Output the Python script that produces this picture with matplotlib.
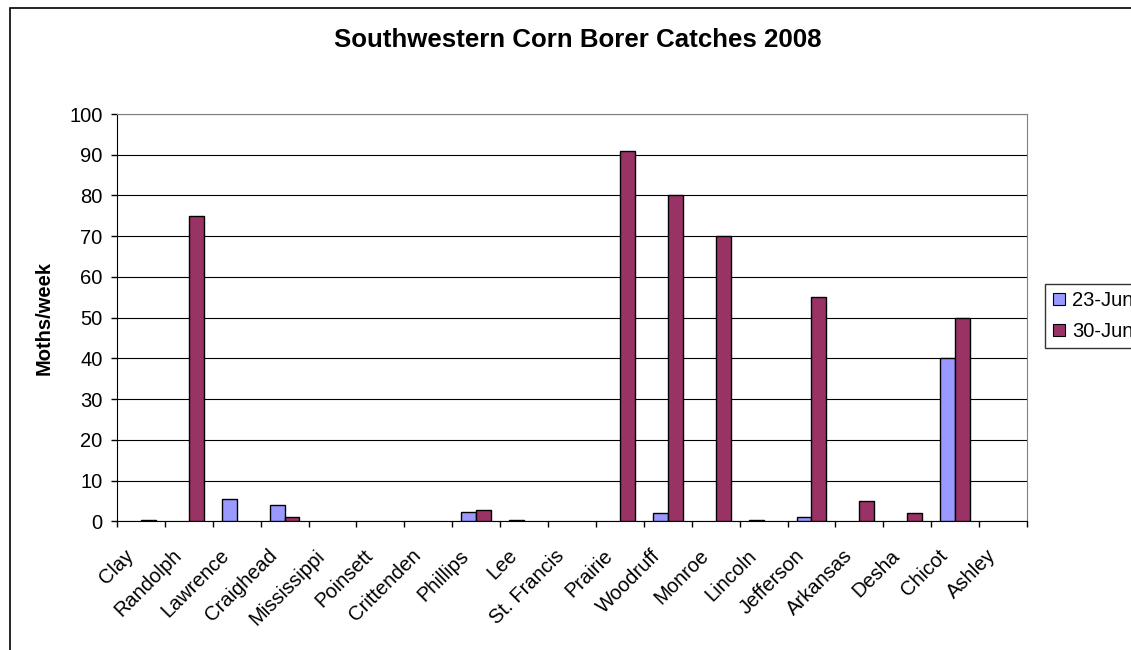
import matplotlib
matplotlib.use('Agg')
import matplotlib.pyplot as plt
import matplotlib.transforms as mtransforms
import numpy as np
from matplotlib.patches import Rectangle
from matplotlib.lines import Line2D

plt.rcParams['font.family'] = ['Liberation Sans', 'DejaVu Sans']

counties = ['Clay', 'Randolph', 'Lawrence', 'Craighead', 'Mississippi', 'Poinsett',
            'Crittenden', 'Phillips', 'Lee', 'St. Francis', 'Prairie', 'Woodruff',
            'Monroe', 'Lincoln', 'Jefferson', 'Arkansas', 'Desha', 'Chicot', 'Ashley']
jun23 = [0, 0, 5.5, 4, 0, 0, 0, 2.4, 0.3, 0, 0, 2, 0, 0.3, 1, 0, 0, 40, 0]
jun30 = [0.3, 75, 0, 1, 0, 0, 0, 2.7, 0, 0, 91, 80, 70, 0, 55, 5, 2, 50, 0]
series_names = ['23-Jun', '30-Jun']
colors = ['#9999FF', '#993366']

fig = plt.figure(figsize=(11.31, 6.5), dpi=100)
ax = fig.add_axes([117 / 1131, 1 - 521.3 / 650, 910 / 1131, (521.3 - 114) / 650])

# outer chart frame
fig.add_artist(Rectangle((10 / 1131, -0.1), 1.2, 1 - 8 / 650 + 0.1, transform=fig.transFigure,
                         fill=False, edgecolor='black', linewidth=1.2))

x = np.arange(len(counties)) + 0.5
w = 0.31
b1 = ax.bar(x - w / 2, jun23, width=w, color=colors[0], edgecolor='black', linewidth=1, zorder=3)
b2 = ax.bar(x + w / 2, jun30, width=w, color=colors[1], edgecolor='black', linewidth=1, zorder=3)
# zero values are not drawn
for bars, vals in ((b1, jun23), (b2, jun30)):
    for p, v in zip(bars, vals):
        if v == 0:
            p.set_visible(False)

ax.set_xlim(0, len(counties))
ax.set_ylim(0, 100)
ax.set_yticks(np.arange(0, 101, 10))
ax.yaxis.grid(True, color='black', linewidth=0.8, zorder=0)
ax.set_axisbelow(True)

ax.set_xticks(np.arange(0, len(counties) + 1), minor=False)
ax.set_xticklabels([])
ax.set_xticks(x, minor=True)
ax.set_xticklabels(counties, minor=True, rotation=45, ha='right', va='top',
                   rotation_mode='anchor', fontsize=14.5)
ax.tick_params(axis='x', which='minor', length=0, pad=12)
ax.tick_params(axis='x', which='major', length=4.5, direction='out', width=1)
ax.tick_params(axis='y', length=4.5, direction='out', width=1, labelsize=14.5, pad=6)

# shift the slanted labels a bit left/down, like the original
offset = mtransforms.ScaledTranslation(-17 / 100, -8 / 100, fig.dpi_scale_trans)
for lbl in ax.xaxis.get_minorticklabels():
    lbl.set_transform(lbl.get_transform() + offset)

for s in ['top', 'right']:
    ax.spines[s].set_color('#808080')
ax.spines['left'].set_color('black')
ax.spines['bottom'].set_color('black')

ax.set_ylabel('Moths/week', fontsize=14.5, fontweight='bold')
ax.yaxis.set_label_coords(-63 / 910, 0.5)
fig.text(578 / 1131, 1 - 40 / 650, 'Southwestern Corn Borer Catches 2008',
         ha='center', va='center', fontsize=18.6, fontweight='bold')

handles = [Line2D([], [], marker='s', linestyle='', markersize=9, markerfacecolor=c,
                  markeredgecolor='black', markeredgewidth=0.8) for c in colors]
leg = fig.legend(handles, series_names, loc='upper left',
                 bbox_to_anchor=(1045 / 1131, 1 - 284 / 650), fontsize=14.5,
                 frameon=True, fancybox=False, edgecolor='black', handlelength=0.7,
                 handletextpad=0.3, borderpad=0.35, labelspacing=0.6, borderaxespad=0)
leg.get_frame().set_linewidth(1)

fig.savefig('out.png', dpi=100)
